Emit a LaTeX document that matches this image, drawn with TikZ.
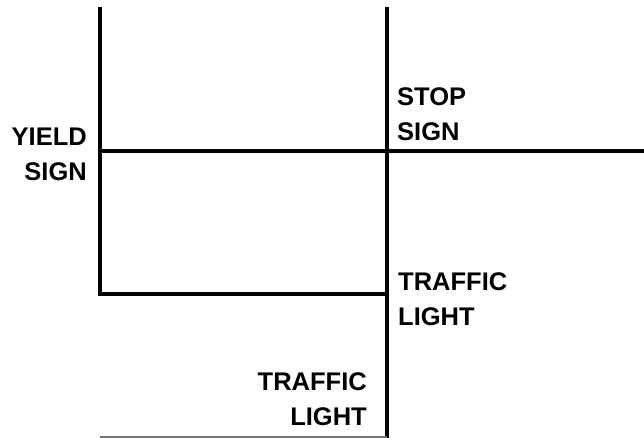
\documentclass[tikz,border=0pt]{standalone}
\usepackage{fontspec}
\setmainfont{Liberation Sans}
\begin{document}
\begin{tikzpicture}[x=1pt,y=-1pt,
  road/.style={line width=3.2pt,black},
  edge/.style={line width=1.8pt,black!55},
  lbl/.style={font=\bfseries\fontsize{25.5}{35}\selectfont,inner sep=0pt}]
\useasboundingbox (0,0) rectangle (644,438);
\coordinate (lt) at (100,7);
\coordinate (lb) at (100,294);
\coordinate (mt) at (387,7);
\coordinate (mb) at (387,438);
\coordinate (hl) at (100,151);
\coordinate (hr) at (644,151);
\coordinate (bl) at (100,437);
\coordinate (br) at (387,437);
\draw[road] (lt) -- (lb) -- (mb |- lb);
\draw[road] (mt) -- (mb);
\draw[road] (hl) -- (hr);
\draw[edge] (bl) -- (br);
\node[lbl,align=right,anchor=base east] (yield) at (87,181) {YIELD\\SIGN};
\node[lbl,align=left,anchor=base west] (stop) at (397,141) {STOP\\SIGN};
\node[lbl,align=left,anchor=base west] (tl1) at (398,325) {TRAFFIC\\LIGHT};
\node[lbl,align=right,anchor=base east] (tl2) at (367,425) {TRAFFIC\\LIGHT};
\end{tikzpicture}
\end{document}
